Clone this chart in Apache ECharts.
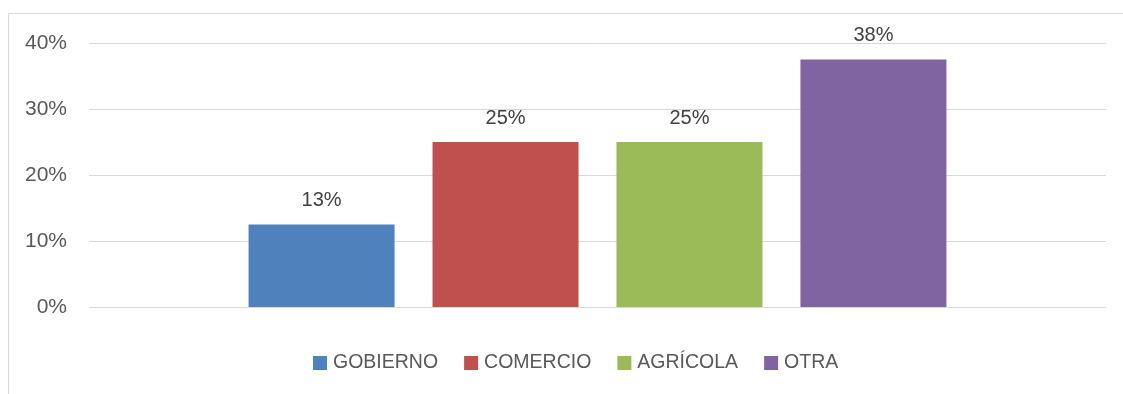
<!DOCTYPE html>
<html>
<head>
<meta charset="utf-8">
<script src="https://cdn.jsdelivr.net/npm/echarts@6/dist/echarts.min.js"></script>
<style>
  html, body { margin: 0; padding: 0; background: #fff; }
  #chart { width: 1123px; height: 394px; }
</style>
</head>
<body>
<div id="chart"></div>
<script>
// Sectors and their shares (fractions of 1)
const sectors = ['GOBIERNO', 'COMERCIO', 'AGRÍCOLA', 'OTRA'];
const shares = [0.125, 0.25, 0.25, 0.375];
const colors = ['#4F81BD', '#C0504D', '#9BBB59', '#8064A2'];
const yTicks = [0, 0.1, 0.2, 0.3, 0.4];

const FONT = '"Liberation Sans", Arial, sans-serif';
const TEXT = '#595959';

const pct = v => Math.round(v * 100) + '%';

const chart = echarts.init(document.getElementById('chart'), null, { renderer: 'canvas' });

chart.setOption({
  animation: false,
  backgroundColor: '#fff',
  textStyle: { fontFamily: FONT },
  graphic: [
    // outer frame of the chart area
    { type: 'line', shape: { x1: 8.5, y1: 13.5, x2: 1123, y2: 13.5 }, style: { stroke: '#d9d9d9', lineWidth: 1 } },
    { type: 'line', shape: { x1: 8.5, y1: 13.5, x2: 8.5, y2: 394 }, style: { stroke: '#d9d9d9', lineWidth: 1 } }
  ],
  grid: { left: 89, right: 17, top: 43, bottom: 87, containLabel: false },
  legend: {
    top: 353,
    left: 313,
    padding: 0,
    itemWidth: 14,
    itemHeight: 14,
    itemGap: 26,
    icon: 'rect',
    textStyle: { fontFamily: FONT, fontSize: 19.5, color: TEXT, padding: [0, 0, 0, 1] },
    data: sectors
  },
  xAxis: {
    type: 'category',
    data: [''],
    axisLine: { show: false },
    axisTick: { show: false },
    axisLabel: { show: false },
    splitLine: { show: false }
  },
  yAxis: {
    type: 'value',
    min: yTicks[0],
    max: yTicks[yTicks.length - 1],
    interval: 0.1,
    axisLine: { show: false },
    axisTick: { show: false },
    axisLabel: { formatter: pct, fontFamily: FONT, fontSize: 21, color: TEXT, margin: 22 },
    splitLine: { lineStyle: { color: '#d9d9d9', width: 1 } }
  },
  series: sectors.map((name, i) => ({
    name: name,
    type: 'bar',
    data: [shares[i]],
    barWidth: 146,
    barGap: '26%',
    itemStyle: { color: colors[i] },
    label: {
      show: true,
      position: 'top',
      distance: 14,
      formatter: p => pct(p.value),
      fontFamily: FONT,
      fontSize: 20,
      color: '#404040'
    }
  }))
});
</script>
</body>
</html>
